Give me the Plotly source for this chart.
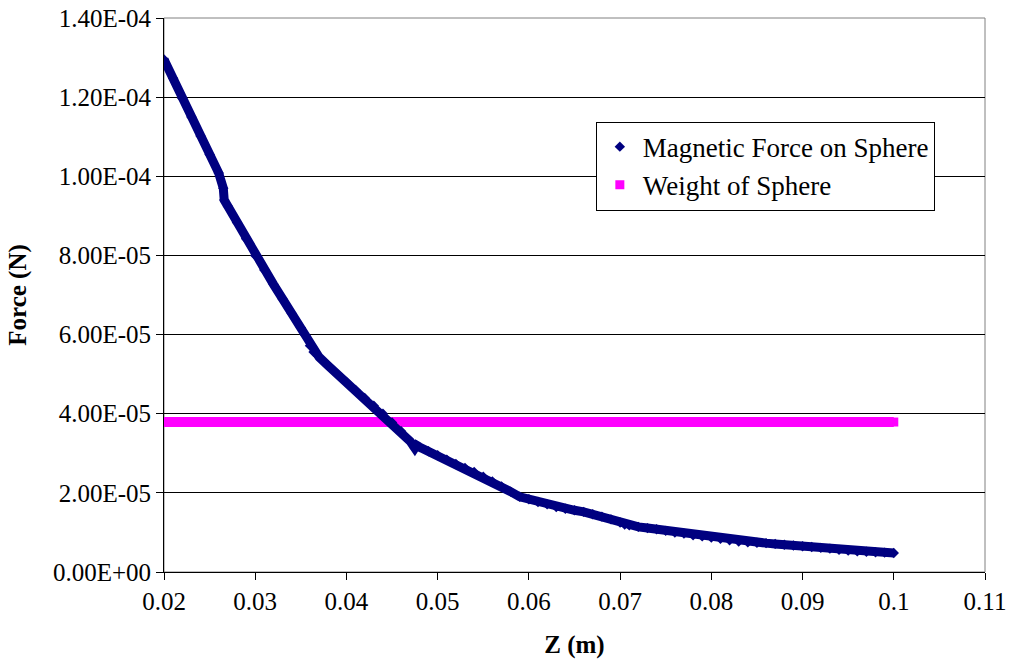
import plotly.graph_objects as go

# Magnetic force on sphere
z_m = [0.0200, 0.0210, 0.0220, 0.0230, 0.0240, 0.0250, 0.0260, 0.0265,
       0.0266, 0.0270, 0.0280, 0.0290, 0.0300, 0.0310, 0.0320, 0.0330,
       0.0340, 0.0350, 0.0355, 0.0360, 0.0364, 0.0370, 0.0380, 0.0390,
       0.0400, 0.0410, 0.0420, 0.0430, 0.0440, 0.0450, 0.0460, 0.0470,
       0.0475, 0.0477, 0.0480, 0.0490, 0.0500, 0.0510, 0.0520, 0.0530,
       0.0540, 0.0550, 0.0560, 0.0570, 0.0580, 0.0590, 0.0600, 0.0610,
       0.0620, 0.0630, 0.0640, 0.0650, 0.0660, 0.0670, 0.0680, 0.0690,
       0.0700, 0.0705, 0.0710, 0.0720, 0.0730, 0.0740, 0.0750, 0.0760,
       0.0770, 0.0780, 0.0790, 0.0800, 0.0810, 0.0820, 0.0830, 0.0840,
       0.0850, 0.0860, 0.0870, 0.0880, 0.0890, 0.0900, 0.0910, 0.0920,
       0.0930, 0.0940, 0.0950, 0.0960, 0.0970, 0.0980, 0.0990, 0.1000]
force_N = [1.295e-4, 1.248e-4, 1.197e-4, 1.150e-4, 1.102e-4, 1.055e-4, 1.008e-4, 0.970e-4,
           0.940e-4, 0.924e-4, 0.883e-4, 0.842e-4, 0.800e-4, 0.763e-4, 0.727e-4, 0.690e-4,
           0.653e-4, 0.617e-4, 0.598e-4, 0.572e-4, 0.556e-4, 0.543e-4, 0.521e-4, 0.500e-4,
           0.480e-4, 0.460e-4, 0.440e-4, 0.420e-4, 0.400e-4, 0.378e-4, 0.356e-4, 0.330e-4,
           0.313e-4, 0.320e-4, 0.316e-4, 0.305e-4, 0.295e-4, 0.284e-4, 0.273e-4, 0.263e-4,
           0.253e-4, 0.241e-4, 0.229e-4, 0.216e-4, 0.203e-4, 0.190e-4, 0.184e-4, 0.177e-4,
           0.171e-4, 0.164e-4, 0.160e-4, 0.156e-4, 0.152e-4, 0.146e-4, 0.140e-4, 0.133e-4,
           0.125e-4, 0.120e-4, 0.118e-4, 0.114e-4, 0.111e-4, 0.108e-4, 0.104e-4, 0.100e-4,
           0.097e-4, 0.093e-4, 0.090e-4, 0.087e-4, 0.084e-4, 0.080e-4, 0.077e-4, 0.075e-4,
           0.074e-4, 0.073e-4, 0.071e-4, 0.069e-4, 0.067e-4, 0.065e-4, 0.063e-4, 0.061e-4,
           0.059e-4, 0.056e-4, 0.054e-4, 0.052e-4, 0.051e-4, 0.050e-4, 0.049e-4, 0.048e-4]

# Weight of sphere
weight_z = [0.02, 0.10]
weight_N = [3.79e-5, 3.79e-5]

x_tickvals = [0.02, 0.03, 0.04, 0.05, 0.06, 0.07, 0.08, 0.09, 0.10, 0.11]
x_ticktext = ["0.02", "0.03", "0.04", "0.05", "0.06", "0.07", "0.08", "0.09", "0.1", "0.11"]
y_tickvals = [0, 2e-5, 4e-5, 6e-5, 8e-5, 1e-4, 1.2e-4, 1.4e-4]
y_ticktext = ["0.00E+00", "2.00E-05", "4.00E-05", "6.00E-05", "8.00E-05",
              "1.00E-04", "1.20E-04", "1.40E-04"]

NAVY = "#000080"
MAGENTA = "#FF00FF"
FONT = "Liberation Serif, Times New Roman, serif"

fig = go.Figure()
fig.add_trace(go.Scatter(x=weight_z, y=weight_N, mode="lines",
                         line=dict(color=MAGENTA, width=10), showlegend=False,
                         hoverinfo="skip"))
fig.add_trace(go.Scatter(x=weight_z, y=weight_N, mode="markers",
                         marker=dict(symbol="square", color=MAGENTA, size=9),
                         name="Weight of Sphere", legendrank=2))
fig.add_trace(go.Scatter(x=z_m, y=force_N, mode="lines",
                         line=dict(color=NAVY, width=9), showlegend=False,
                         hoverinfo="skip"))
fig.add_trace(go.Scatter(x=z_m, y=force_N, mode="markers",
                         marker=dict(symbol="diamond", color=NAVY, size=8),
                         name="Magnetic Force on Sphere", legendrank=1))

fig.update_layout(
    width=1012, height=659,
    margin=dict(l=164, r=27, t=18, b=87),
    paper_bgcolor="white", plot_bgcolor="white",
    font=dict(family=FONT, size=25, color="black"),
    showlegend=True,
    legend=dict(x=0.526, y=0.813, xanchor="left", yanchor="top",
                bgcolor="white", bordercolor="black", borderwidth=1,
                font=dict(family=FONT, size=27, color="black"),
                itemsizing="trace", itemwidth=36, tracegroupgap=0),
    shapes=[dict(type="rect", xref="paper", yref="paper", x0=0, x1=1, y0=0, y1=1,
                 line=dict(color="#808080", width=1), layer="below")],
)
fig.update_xaxes(range=[0.02, 0.11], tickvals=x_tickvals, ticktext=x_ticktext,
                 showgrid=False, zeroline=False, showline=True, linecolor="black",
                 linewidth=1, ticks="outside", ticklen=7, tickcolor="black",
                 automargin=False,
                 title=dict(text="<b>Z (m)</b>", font=dict(family=FONT, size=25),
                            standoff=23))
fig.update_yaxes(range=[0, 1.4e-4], tickvals=y_tickvals, ticktext=y_ticktext,
                 showgrid=True, gridcolor="black", gridwidth=1,
                 zeroline=False, showline=True, linecolor="black",
                 linewidth=1, ticks="outside", ticklen=7, tickcolor="black",
                 automargin=False,
                 title=dict(text="<b>Force (N)</b>", font=dict(family=FONT, size=25),
                            standoff=19))

fig.write_html("out.html")
